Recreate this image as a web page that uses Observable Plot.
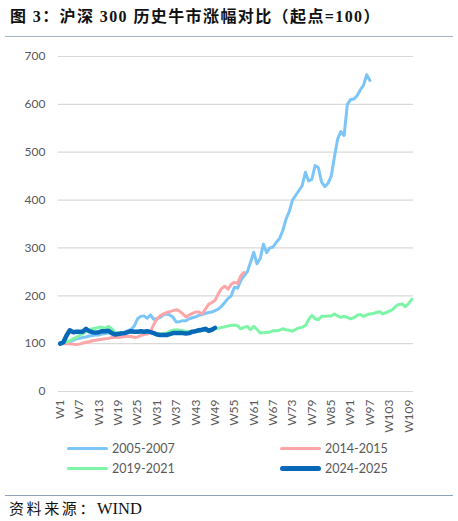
<!DOCTYPE html>
<html>
<head>
<meta charset="utf-8">
<script src="https://cdn.jsdelivr.net/npm/d3@7"></script>
<script src="https://cdn.jsdelivr.net/npm/@observablehq/plot@0.6"></script>
<style>
  html, body { margin: 0; padding: 0; background: #fff; }
  body { width: 458px; height: 521px; position: relative; overflow: hidden; }
  .title { position: absolute; left: 10px; top: 3px; font: bold 16px "Liberation Serif", "Noto Sans CJK SC", serif; color: #111; white-space: nowrap; letter-spacing: 1.4px; }
  .rule { position: absolute; left: 5px; width: 448px; height: 0; }
  #chart { position: absolute; left: 0; top: 40px; }
  .leg { position: absolute; font: 12.5px Lato, "Open Sans", sans-serif; color: #595959; display: flex; align-items: center; white-space: nowrap; }
  .sw { display: inline-block; width: 41px; border-radius: 3px; margin-right: 4px; }
  .src { position: absolute; left: 9px; top: 497px; font: 15px "Liberation Serif", "Noto Sans CJK SC", serif; color: #111; white-space: nowrap; }
  .src .cjk { letter-spacing: 2.6px; }
  .src .lat { font-size: 16.5px; }
</style>
</head>
<body>
<div class="title">图 3：沪深 300 历史牛市涨幅对比（起点=100）</div>
<div class="rule" style="top:36px;border-top:1.5px solid #a3b4c8;"></div>
<div id="chart"></div>
<div class="leg" style="left:67px;top:441px;"><span class="sw" style="height:3.5px;background:#7cc5f8"></span>2005-2007</div>
<div class="leg" style="left:280px;top:441px;"><span class="sw" style="height:3.5px;background:#ffa5a8"></span>2014-2015</div>
<div class="leg" style="left:67px;top:461px;"><span class="sw" style="height:3.5px;background:#7df5a6"></span>2019-2021</div>
<div class="leg" style="left:280px;top:461px;"><span class="sw" style="height:5px;background:#0868b8"></span>2024-2025</div>
<div class="rule" style="top:495px;border-top:1.5px solid #8fa3bb;"></div>
<div class="src"><span class="cjk">资料来源：</span><span class="lat">WIND</span></div>
<script>
const weeks = Array.from({length: 110}, (_, i) => "W" + (i + 1));
const xTicks = ["W1","W7","W13","W19","W25","W31","W37","W43","W49","W55","W61","W67","W73","W79","W85","W91","W97","W103","W109"];
const yTicks = [0, 100, 200, 300, 400, 500, 600, 700];
const seriesNames = ["2005-2007", "2014-2015", "2019-2021", "2024-2025"];
const seriesColors = ["#7cc5f8", "#ffa5a8", "#7df5a6", "#0868b8"];
const seriesWidths = [3, 3, 3, 4.5];

const s2005 = [100,102,104,105,107,110,111,113,114,116,117,118,118,120,121,122,122,122,122,123,
  124,127,130,137,152,157,158,153,160,151,152,155,160,162,160,155,145,146,148,148,
  152,154,156,159,161,163,165,166,169,172,178,186,194,200,218,216,232,242,250,270,
  291,267,278,308,290,300,302,312,320,336,360,376,400,410,420,430,458,440,443,472,
  468,438,428,435,450,490,528,543,535,600,610,611,618,630,640,662,650];
const s2014 = [100,100,100,100,99,98,99,101,103,104,106,107,108,109,110,111,113,113,113,114,
  115,115,115,113,114,117,119,120,125,140,152,158,162,165,167,169,171,168,162,156,
  160,163,166,166,162,172,182,186,190,204,215,220,214,224,228,226,242,249];
const s2019 = [100,102,104,106,110,113,117,121,125,129,131,132,134,134,132,136,131,124,120,121,
  122,123,124,124,124,124,124,124,123,122,121,120,121,122,126,128,129,128,127,126,
  125,125,126,126,127,128,129,130,132,132,134,135,137,138,139,137,131,134,136,129,
  136,130,122,123,124,124,127,127,128,131,129,128,126,130,133,134,138,150,159,152,
  150,157,157,158,158,162,158,155,157,155,152,154,159,161,157,160,162,163,165,167,
  162,165,168,171,178,182,183,177,184,193];
const s2024 = [100,103,117,128,124,125,125,125,131,126,124,123,124,126,126,127,122,119,120,121,
  122,124,126,125,125,126,125,126,124,122,119,118,118,118,120,122,122,122,122,121,
  122,125,126,128,129,131,127,129,133];

const allSeries = [s2005, s2014, s2019, s2024];
const rows = allSeries.flatMap((vals, si) => vals.map((v, i) => ({week: weeks[i], value: v, series: seriesNames[si]})));

const chart = Plot.plot({
  width: 458,
  height: 400,
  marginLeft: 58,
  marginRight: 45,
  marginTop: 16,
  marginBottom: 49,
  style: {fontFamily: "Lato, 'Open Sans', sans-serif", fontSize: "12px", color: "#595959", background: "transparent"},
  x: {type: "point", domain: weeks, padding: 0.5, round: false, label: null},
  y: {domain: [0, 700], label: null},
  marks: [
    Plot.gridY(yTicks, {stroke: "#d9d9d9", strokeOpacity: 1, strokeWidth: 1.2}),
    Plot.axisY(yTicks, {tickSize: 0, tickPadding: 13, label: null, fontSize: 12, fill: "#595959"}),
    Plot.axisX(xTicks, {tickSize: 0, tickPadding: 8, tickRotate: -90, label: null, fontSize: 12, fill: "#595959"}),
    ...seriesNames.map((name, si) => Plot.lineY(rows.filter(d => d.series === name), {
      x: "week", y: "value", stroke: seriesColors[si], strokeWidth: seriesWidths[si],
      strokeLinejoin: "round", strokeLinecap: "round"
    }))
  ]
});
document.getElementById("chart").appendChild(chart);
</script>
</body>
</html>
